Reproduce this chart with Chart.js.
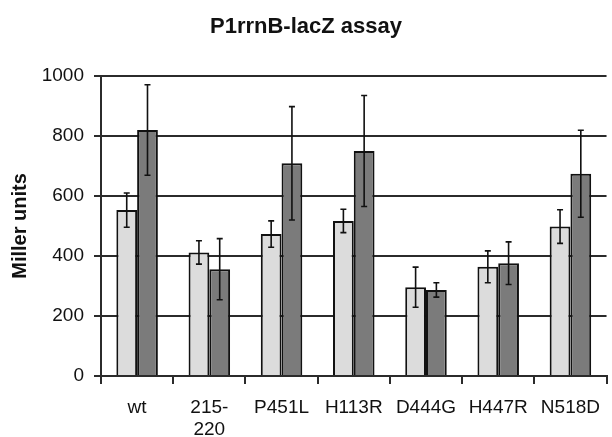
<!DOCTYPE html>
<html>
<head>
<meta charset="utf-8">
<script src="https://cdn.jsdelivr.net/npm/chart.js@4/dist/chart.umd.min.js"></script>
<style>
  html, body { margin: 0; padding: 0; background: #fff; }
  #chart { display: block; }
</style>
</head>
<body>
<canvas id="chart" width="612" height="437"></canvas>
<script>
// values
let categories = ['wt', ['215-', '220'], 'P451L', 'H113R', 'D444G', 'H447R', 'N518D']
let lightValues = [553, 412, 473, 517, 296, 364, 498]
let lightErrors = [57, 39, 44, 39, 67, 53, 56]
let darkValues = [820, 356, 709, 750, 287, 376, 674]
let darkErrors = [151, 102, 189, 185, 24, 71, 145]
let yTicks = [0, 200, 400, 600, 800, 1000]

let fontFamily = "Arial, 'Liberation Sans', sans-serif"
let lineColour = '#2b2b2b'

// draws the +/- error whiskers on top of every bar
let errorBars = {
  id: 'errorBars',
  afterDatasetsDraw(chart) {
    let ctx = chart.ctx
    let yScale = chart.scales.y
    ctx.save()
    ctx.strokeStyle = '#111'
    ctx.lineWidth = 1.6
    chart.data.datasets.forEach((dataset, i) => {
      let meta = chart.getDatasetMeta(i)
      meta.data.forEach((bar, j) => {
        let v = dataset.data[j]
        let e = dataset.errors[j]
        let top = yScale.getPixelForValue(v + e)
        let bottom = yScale.getPixelForValue(v - e)
        ctx.beginPath()
        ctx.moveTo(bar.x, top)
        ctx.lineTo(bar.x, bottom)
        ctx.moveTo(bar.x - 3, top)
        ctx.lineTo(bar.x + 3, top)
        ctx.moveTo(bar.x - 3, bottom)
        ctx.lineTo(bar.x + 3, bottom)
        ctx.stroke()
      })
    })
    ctx.restore()
  },
}

let ctx = document.getElementById('chart').getContext('2d')
let chart = new Chart(ctx, {
  type: 'bar',
  data: {
    labels: categories,
    datasets: [
      {
        data: lightValues,
        errors: lightErrors,
        backgroundColor: '#dcdcdc',
        borderColor: '#111',
        borderWidth: 2,
        categoryPercentage: 0.575,
        barPercentage: 1,
      },
      {
        data: darkValues,
        errors: darkErrors,
        backgroundColor: '#7b7b7b',
        borderColor: '#111',
        borderWidth: 2,
        categoryPercentage: 0.575,
        barPercentage: 1,
      },
    ],
  },
  plugins: [errorBars],
  options: {
    responsive: false,
    animation: false,
    layout: {padding: 0},
    plugins: {
      legend: {display: false},
      tooltip: {enabled: false},
      title: {
        display: true,
        text: 'P1rrnB-lacZ assay',
        color: '#111',
        font: {family: fontFamily, size: 22, weight: 'bold'},
        padding: {top: 14, bottom: 35.6},
      },
    },
    scales: {
      x: {
        grid: {
          drawOnChartArea: false,
          tickLength: 8,
          color: lineColour,
          lineWidth: 2,
        },
        border: {color: lineColour, width: 2},
        ticks: {
          color: '#111',
          font: {family: fontFamily, size: 19},
          padding: 12,
          maxRotation: 0,
          autoSkip: false,
        },
        afterFit(scale) {
          scale.height = 61
        },
      },
      y: {
        min: 0,
        max: 1000,
        afterBuildTicks(scale) {
          scale.ticks = yTicks.map(v => ({value: v}))
        },
        grid: {
          color: lineColour,
          lineWidth: 2,
          tickLength: 7,
        },
        border: {color: lineColour, width: 2},
        ticks: {
          color: '#111',
          font: {family: fontFamily, size: 19},
          padding: 10,
          callback: value => String(value),
        },
        title: {
          display: true,
          text: 'Miller units',
          color: '#111',
          font: {family: fontFamily, size: 20, weight: 'bold'},
          padding: {top: 8, bottom: 0},
        },
        afterFit(scale) {
          scale.width = 101
        },
      },
    },
  },
})
</script>
</body>
</html>
